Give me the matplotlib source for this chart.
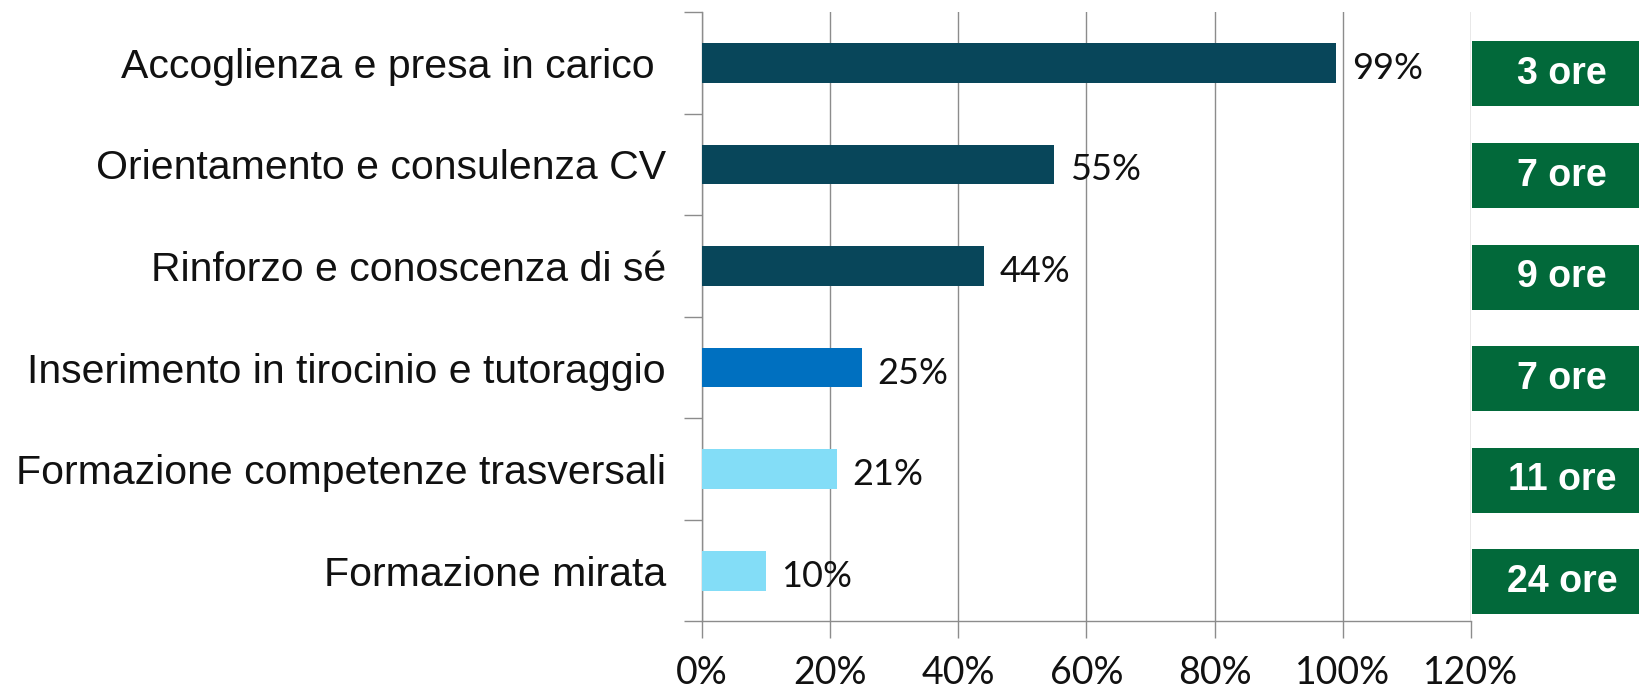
import matplotlib.pyplot as plt
from matplotlib.patches import Rectangle
from matplotlib.ticker import FixedLocator, NullFormatter

categories = [
    "Accoglienza e presa in carico ",
    "Orientamento e consulenza CV",
    "Rinforzo e conoscenza di sé",
    "Inserimento in tirocinio e tutoraggio",
    "Formazione competenze trasversali",
    "Formazione mirata",
]
shares = [99, 55, 44, 25, 21, 10]
hours = ["3 ore", "7 ore", "9 ore", "7 ore", "11 ore", "24 ore"]
bar_colors = ["#08465A", "#08465A", "#08465A", "#0070C0", "#83DDF7", "#83DDF7"]
x_ticks = [0, 20, 40, 60, 80, 100, 120]

GREEN = "#02693A"
GRID = "#8C8C8C"

fig = plt.figure(figsize=(16.39, 6.91), dpi=100)
ax = fig.add_axes([0.4283, 0.1006, 0.4692, 0.8820])

y = list(range(len(categories)))
ax.barh(y, shares, height=0.39, color=bar_colors, zorder=3)

for yi, v in zip(y, shares):
    ax.annotate(f"{v}%", (v, yi), xytext=(11, -4), textcoords="offset points",
                va="center", ha="left", fontsize=26, family="Lato", color="#111111")

# green boxes with hours, sitting to the right of the plot
for yi, h in zip(y, hours):
    ax.add_patch(Rectangle((120.1, yi + 0.11 - 0.32), 40, 0.64, facecolor=GREEN,
                           edgecolor="none", clip_on=False, zorder=4))
    ax.text(134.2, yi + 0.11, h, ha="center", va="center", fontsize=27,
            fontweight="bold", family="Liberation Sans", color="white", zorder=5)

ax.set_xlim(0, 120)
ax.set_ylim(len(categories) - 0.5, -0.5)

ax.set_xticks(x_ticks)
ax.set_xticklabels([f"{t}%" for t in x_ticks], fontsize=27, family="Lato", color="#111111")
ax.tick_params(axis="x", length=12, width=1, color=GRID, pad=12)

# category boundaries as ticks, labels in the middle
ax.yaxis.set_major_locator(FixedLocator([i - 0.5 for i in range(len(categories) + 1)]))
ax.yaxis.set_major_formatter(NullFormatter())
ax.yaxis.set_minor_locator(FixedLocator(y))
ax.set_yticklabels(categories, minor=True, fontsize=29.5, family="Liberation Sans", color="#111111")
ax.tick_params(axis="y", which="major", length=13, width=1, color=GRID)
ax.tick_params(axis="y", which="minor", length=0, pad=26)

ax.grid(axis="x", color=GRID, linewidth=1, zorder=0)
for side in ["top", "right"]:
    ax.spines[side].set_visible(False)
for side in ["left", "bottom"]:
    ax.spines[side].set_color(GRID)
    ax.spines[side].set_linewidth(1)

fig.savefig("out.png", dpi=100)
